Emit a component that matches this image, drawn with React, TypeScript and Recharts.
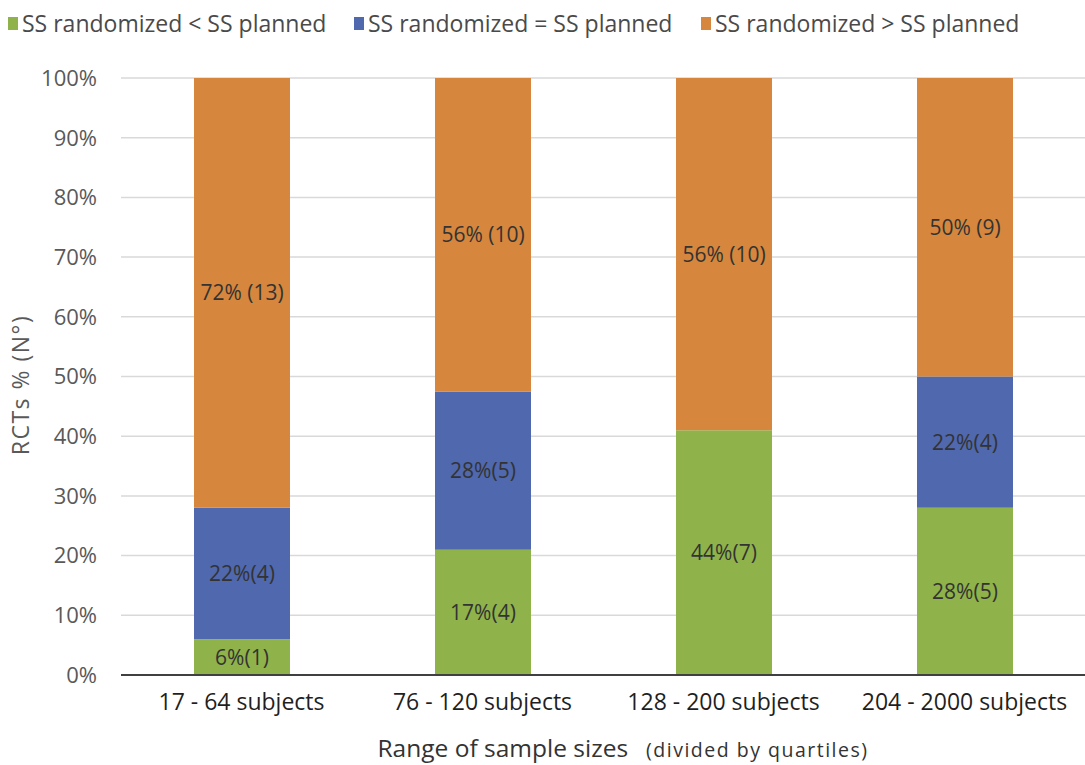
import React from "react";
import { BarChart, Bar, XAxis, YAxis, CartesianGrid, Legend, LabelList } from "recharts";

const categories = ["17 - 64 subjects", "76 - 120 subjects", "128 - 200 subjects", "204 - 2000 subjects"];
const lessValues = [6, 21, 41, 28];
const equalValues = [22, 26.5, 0, 22];
const greaterValues = [72, 52.5, 59, 50];
const lessLabels = ["6%(1)", "17%(4)", "44%(7)", "28%(5)"];
const equalLabels = ["22%(4)", "28%(5)", "", "22%(4)"];
const greaterLabels = ["72% (13)", "56% (10)", "56% (10)", "50% (9)"];
const yTicks = [0, 10, 20, 30, 40, 50, 60, 70, 80, 90, 100];
const seriesNames = ["SS randomized < SS planned", "SS randomized = SS planned", "SS randomized > SS planned"];

const GREEN = "#8FB34A";
const BLUE = "#4F68AE";
const ORANGE = "#D6873D";
const colors = [GREEN, BLUE, ORANGE];

const data = categories.map((c, i) => ({
  name: c,
  less: lessValues[i],
  equal: equalValues[i],
  greater: greaterValues[i],
  lessLabel: lessLabels[i],
  equalLabel: equalLabels[i],
  greaterLabel: greaterLabels[i],
}));

const FONT = "'Open Sans', sans-serif";
const legendLefts = [8, 354, 701];

const LegendContent = () => (
  <div style={{ position: "relative", width: 1085, height: 44, fontFamily: FONT }}>
    {seriesNames.map((n, i) => (
      <div
        key={n}
        style={{
          position: "absolute",
          left: legendLefts[i],
          top: 7,
          display: "flex",
          alignItems: "center",
          fontSize: 23,
          color: "#4a4a4a",
          whiteSpace: "nowrap",
        }}
      >
        <span style={{ display: "inline-block", width: 10, height: 13, background: colors[i], marginRight: 4 }} />
        {n}
      </div>
    ))}
  </div>
);

const XTitle = (props: any) => {
  const vb = props.viewBox || {};
  const cx = vb.x + vb.width / 2 + 20;
  return (
    <text x={cx} y={757} textAnchor="middle" fill="#333" fontFamily={FONT}>
      <tspan fontSize={24.5}>Range of sample sizes</tspan>
      <tspan fontSize={19.5} dx={18} letterSpacing={1.5}>(divided by quartiles)</tspan>
    </text>
  );
};

const YTitle = () => (
  <text
    x={20}
    y={385}
    transform="rotate(-90 20 385)"
    textAnchor="middle"
    dominantBaseline="central"
    fill="#595959"
    fontSize={23}
    letterSpacing={1.5}
    fontFamily={FONT}
  >
    RCTs % (N°)
  </text>
);

export default function App() {
  return (
    <div style={{ position: "absolute", left: 0, top: 0, width: 1085, height: 765, background: "#fff", fontFamily: FONT }}>
      <BarChart
        width={1085}
        height={765}
        data={data}
        margin={{ top: 34, right: 0, bottom: 30, left: 0 }}
        barSize={96}
      >
        <Legend
          verticalAlign="top"
          align="left"
          content={<LegendContent />}
          wrapperStyle={{ top: 0, left: 0, width: 1085, height: 44 }}
        />
        <CartesianGrid vertical={false} stroke="#D9D9D9" strokeWidth={1.5} />
        <XAxis
          dataKey="name"
          height={60}
          tickLine={false}
          tickSize={0}
          tickMargin={19}
          axisLine={{ stroke: "#404040", strokeWidth: 2 }}
          tick={{ fill: "#1f1f1f", fontSize: 23, fontFamily: FONT }}
          interval={0}
          label={{ content: <XTitle /> }}
        />
        <YAxis
          width={121}
          domain={[0, 100]}
          ticks={yTicks}
          tickFormatter={(v: number) => `${v}%`}
          axisLine={false}
          tickLine={false}
          tickSize={0}
          tickMargin={24}
          tick={{ fill: "#595959", fontSize: 22, fontFamily: FONT }}
          label={{ content: <YTitle /> }}
        />
        <Bar dataKey="less" stackId="a" fill={GREEN} isAnimationActive={false} name={seriesNames[0]}>
          <LabelList dataKey="lessLabel" position="center" fill="#333" fontSize={21} fontFamily={FONT} />
        </Bar>
        <Bar dataKey="equal" stackId="a" fill={BLUE} isAnimationActive={false} name={seriesNames[1]}>
          <LabelList dataKey="equalLabel" position="center" fill="#333" fontSize={21} fontFamily={FONT} />
        </Bar>
        <Bar dataKey="greater" stackId="a" fill={ORANGE} isAnimationActive={false} name={seriesNames[2]}>
          <LabelList dataKey="greaterLabel" position="center" fill="#333" fontSize={21} fontFamily={FONT} />
        </Bar>
      </BarChart>
    </div>
  );
}
